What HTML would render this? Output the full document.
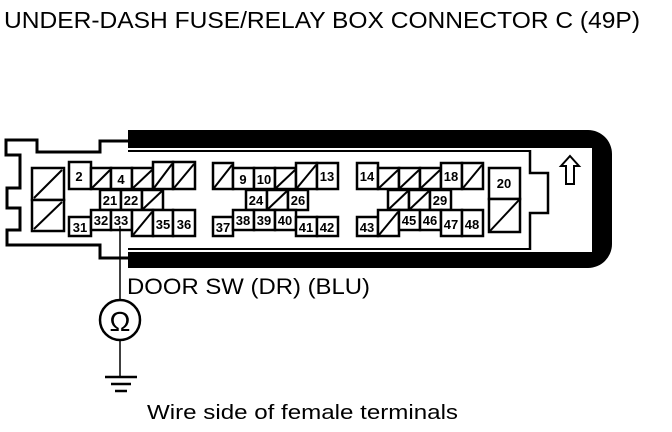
<!DOCTYPE html>
<html><head><meta charset="utf-8"><style>
html,body{margin:0;padding:0;background:#fff;}
svg{display:block;}
text{font-family:"Liberation Sans",Arial,sans-serif;fill:#000;}
.c{fill:#fff;stroke:#000;stroke-width:2.5;}
.n{font-size:13px;text-anchor:middle;font-weight:bold;}
</style></head><body>
<svg width="672" height="432" viewBox="0 0 672 432" xmlns="http://www.w3.org/2000/svg">
<text x="4" y="28" font-size="23.5" textLength="636" lengthAdjust="spacingAndGlyphs">UNDER-DASH FUSE/RELAY BOX CONNECTOR C (49P)</text>
<polyline fill="none" stroke="#000" stroke-width="3" points="128,141 100,141 100,152 37,152 37,140 6,140 6,155 20,155 20,188 7,188 7,208 20,208 20,230 7,230 7,245 100,245 100,258 128,258"/>
<path d="M128,130 H588 A24,24 0 0 1 612,154 V244 A24,24 0 0 1 588,268 H128 V252 H592 V148 H128 Z" fill="#000"/>
<line x1="128" y1="151" x2="530" y2="151" stroke="#000" stroke-width="2"/>
<line x1="128" y1="249" x2="530" y2="249" stroke="#000" stroke-width="2"/>
<polyline fill="none" stroke="#000" stroke-width="2.5" points="530,150 530,173 548,173 548,213 530,213 530,250"/>
<path d="M570,156 L579,166 L574,166 L574,184 L566,184 L566,166 L561,166 Z" fill="#fff" stroke="#000" stroke-width="2"/>
<g>
<rect class="c" x="32" y="168" width="32" height="32"/><line x1="34" y1="198" x2="62" y2="170" stroke="#000" stroke-width="2"/>
<rect class="c" x="32" y="200" width="32" height="31"/><line x1="34" y1="229" x2="62" y2="202" stroke="#000" stroke-width="2"/>
<rect class="c" x="69" y="162" width="22" height="27"/><text class="n" x="79" y="181">2</text>
<rect class="c" x="91" y="168" width="20" height="21"/><line x1="92" y1="188" x2="110" y2="170" stroke="#000" stroke-width="2"/>
<rect class="c" x="111" y="168" width="21" height="21"/><text class="n" x="121" y="184">4</text>
<rect class="c" x="132" y="168" width="21" height="21"/><line x1="133" y1="188" x2="152" y2="170" stroke="#000" stroke-width="2"/>
<rect class="c" x="153" y="162" width="20" height="27"/><line x1="154" y1="188" x2="172" y2="164" stroke="#000" stroke-width="2"/>
<rect class="c" x="173" y="162" width="22" height="27"/><line x1="174" y1="188" x2="194" y2="164" stroke="#000" stroke-width="2"/>
<rect class="c" x="100" y="190" width="21" height="20"/><text class="n" x="110" y="205">21</text>
<rect class="c" x="121" y="190" width="21" height="20"/><text class="n" x="131" y="205">22</text>
<rect class="c" x="142" y="190" width="21" height="20"/><line x1="143" y1="209" x2="162" y2="191" stroke="#000" stroke-width="2"/>
<rect class="c" x="69" y="217" width="22" height="19"/><text class="n" x="80" y="232">31</text>
<rect class="c" x="91" y="210" width="20" height="20"/><text class="n" x="101" y="225">32</text>
<rect class="c" x="111" y="210" width="21" height="20"/><text class="n" x="121" y="225">33</text>
<rect class="c" x="132" y="210" width="21" height="26"/><line x1="133" y1="235" x2="152" y2="212" stroke="#000" stroke-width="2"/>
<rect class="c" x="153" y="210" width="20" height="26"/><text class="n" x="163" y="229">35</text>
<rect class="c" x="173" y="210" width="22" height="26"/><text class="n" x="184" y="229">36</text>
<rect class="c" x="213" y="163" width="20" height="26"/><line x1="214" y1="188" x2="232" y2="165" stroke="#000" stroke-width="2"/>
<rect class="c" x="233" y="168" width="21" height="21"/><text class="n" x="243" y="184">9</text>
<rect class="c" x="254" y="168" width="21" height="21"/><text class="n" x="264" y="184">10</text>
<rect class="c" x="275" y="168" width="21" height="21"/><line x1="276" y1="188" x2="295" y2="170" stroke="#000" stroke-width="2"/>
<rect class="c" x="296" y="163" width="21" height="26"/><line x1="297" y1="188" x2="316" y2="165" stroke="#000" stroke-width="2"/>
<rect class="c" x="317" y="163" width="21" height="26"/><text class="n" x="327" y="181">13</text>
<rect class="c" x="246" y="190" width="21" height="20"/><text class="n" x="256" y="205">24</text>
<rect class="c" x="267" y="190" width="21" height="20"/><line x1="268" y1="209" x2="287" y2="191" stroke="#000" stroke-width="2"/>
<rect class="c" x="288" y="190" width="20" height="20"/><text class="n" x="298" y="205">26</text>
<rect class="c" x="213" y="217" width="20" height="19"/><text class="n" x="223" y="232">37</text>
<rect class="c" x="233" y="210" width="21" height="20"/><text class="n" x="243" y="225">38</text>
<rect class="c" x="254" y="210" width="21" height="20"/><text class="n" x="264" y="225">39</text>
<rect class="c" x="275" y="210" width="21" height="20"/><text class="n" x="285" y="225">40</text>
<rect class="c" x="296" y="217" width="21" height="19"/><text class="n" x="306" y="232">41</text>
<rect class="c" x="317" y="217" width="21" height="19"/><text class="n" x="327" y="232">42</text>
<rect class="c" x="357" y="163" width="21" height="26"/><text class="n" x="367" y="181">14</text>
<rect class="c" x="378" y="168" width="21" height="21"/><line x1="379" y1="188" x2="398" y2="170" stroke="#000" stroke-width="2"/>
<rect class="c" x="399" y="168" width="21" height="21"/><line x1="400" y1="188" x2="419" y2="170" stroke="#000" stroke-width="2"/>
<rect class="c" x="420" y="168" width="21" height="21"/><line x1="421" y1="188" x2="440" y2="170" stroke="#000" stroke-width="2"/>
<rect class="c" x="441" y="163" width="21" height="26"/><text class="n" x="451" y="181">18</text>
<rect class="c" x="462" y="163" width="21" height="26"/><line x1="463" y1="188" x2="482" y2="165" stroke="#000" stroke-width="2"/>
<rect class="c" x="388" y="190" width="21" height="20"/><line x1="389" y1="209" x2="408" y2="191" stroke="#000" stroke-width="2"/>
<rect class="c" x="409" y="190" width="21" height="20"/><line x1="410" y1="209" x2="429" y2="191" stroke="#000" stroke-width="2"/>
<rect class="c" x="430" y="190" width="21" height="20"/><text class="n" x="440" y="205">29</text>
<rect class="c" x="357" y="217" width="21" height="19"/><text class="n" x="367" y="232">43</text>
<rect class="c" x="378" y="210" width="21" height="26"/><line x1="379" y1="235" x2="398" y2="212" stroke="#000" stroke-width="2"/>
<rect class="c" x="399" y="210" width="21" height="20"/><text class="n" x="409" y="225">45</text>
<rect class="c" x="420" y="210" width="21" height="20"/><text class="n" x="430" y="225">46</text>
<rect class="c" x="441" y="210" width="21" height="26"/><text class="n" x="451" y="229">47</text>
<rect class="c" x="462" y="210" width="21" height="26"/><text class="n" x="472" y="229">48</text>
<rect class="c" x="489" y="168" width="31" height="31"/><text class="n" x="504" y="188">20</text>
<rect class="c" x="489" y="199" width="31" height="33"/><line x1="490" y1="231" x2="519" y2="200" stroke="#000" stroke-width="2"/>
</g>
<line x1="120" y1="226" x2="120" y2="299" stroke="#000" stroke-width="1.5"/>
<circle cx="120" cy="320" r="20" fill="#fff" stroke="#000" stroke-width="2.5"/>
<text x="120" y="331" font-size="28" text-anchor="middle">Ω</text>
<line x1="120" y1="340" x2="120" y2="376" stroke="#000" stroke-width="1.5"/>
<line x1="105" y1="377" x2="137" y2="377" stroke="#000" stroke-width="2.5"/>
<line x1="111" y1="384" x2="131" y2="384" stroke="#000" stroke-width="2.5"/>
<line x1="115" y1="391" x2="127" y2="391" stroke="#000" stroke-width="2.5"/>
<text x="127" y="294" font-size="22" textLength="243" lengthAdjust="spacingAndGlyphs">DOOR SW (DR) (BLU)</text>
<text x="147" y="419" font-size="20" textLength="311" lengthAdjust="spacingAndGlyphs">Wire side of female terminals</text>
</svg>
</body></html>
